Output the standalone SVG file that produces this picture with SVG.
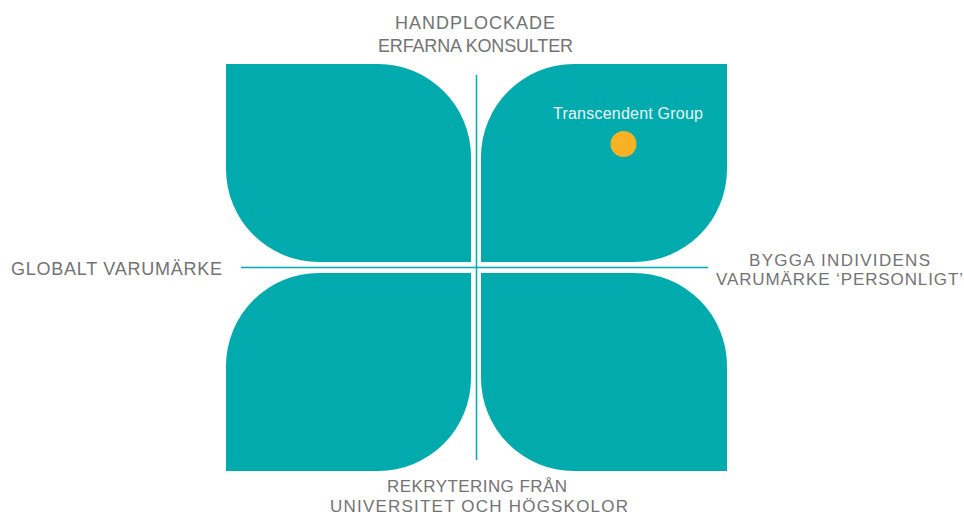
<svg xmlns="http://www.w3.org/2000/svg" width="964" height="516" viewBox="0 0 964 516">
<style>
.leaf{fill:#00AAAD;}
.axis{stroke:#00AAAD;stroke-width:1.5;fill:none;}
.lbl{font-family:"Liberation Sans",Arial,sans-serif;font-size:17px;fill:#737373;text-anchor:middle;}
.big{font-size:18px;}
.tg{font-family:"Liberation Sans",Arial,sans-serif;font-size:16px;fill:#E6F6F6;text-anchor:middle;}
</style>
<rect width="964" height="516" fill="#ffffff"/>
<g id="leaf-top-left"><path class="leaf" d="M226,64 H378 A93,93 0 0 1 471,157 V262 H319 A93,93 0 0 1 226,169 Z"/></g>
<g id="leaf-top-right"><path class="leaf" d="M574,64 H727 V169 A93,93 0 0 1 634,262 H481 V157 A93,93 0 0 1 574,64 Z"/></g>
<g id="leaf-bottom-left"><path class="leaf" d="M319,273 H471 V378 A93,93 0 0 1 378,471 H226 V366 A93,93 0 0 1 319,273 Z"/></g>
<g id="leaf-bottom-right"><path class="leaf" d="M481,273 H634 A93,93 0 0 1 727,366 V471 H574 A93,93 0 0 1 481,378 Z"/></g>
<g id="connectors">
<line class="axis" x1="476.5" y1="75" x2="476.5" y2="460"/>
<line class="axis" x1="241" y1="267.5" x2="708" y2="267.5"/>
</g>
<g id="label-top">
<text class="lbl big" x="475" y="29" textLength="160">HANDPLOCKADE</text>
<text class="lbl big" x="475.5" y="52" textLength="195">ERFARNA KONSULTER</text>
</g>
<g id="label-bottom">
<text class="lbl" x="477" y="492" textLength="180">REKRYTERING FRÅN</text>
<text class="lbl" x="479" y="511.5" textLength="298">UNIVERSITET OCH HÖGSKOLOR</text>
</g>
<g id="label-left">
<text class="lbl big" x="116.5" y="275" textLength="211">GLOBALT VARUMÄRKE</text>
</g>
<g id="label-right">
<text class="lbl" x="839.5" y="265.5" textLength="181">BYGGA INDIVIDENS</text>
<text class="lbl" x="839.5" y="285" textLength="247">VARUMÄRKE ‘PERSONLIGT’</text>
</g>
<g id="transcendent-group">
<text class="tg" x="628" y="119" textLength="150">Transcendent Group</text>
<circle cx="623.5" cy="144" r="13" fill="#F9B224"/>
</g>
</svg>
